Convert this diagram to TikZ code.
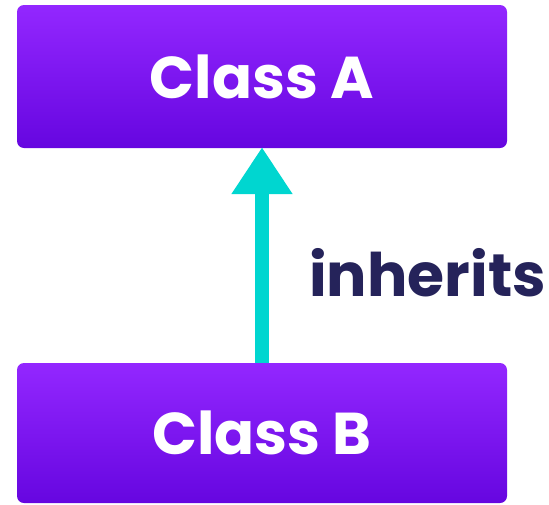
\documentclass[tikz,border=0pt]{standalone}
\usepackage{fontspec}
\setmainfont{Poppins}
\usetikzlibrary{arrows.meta}
\definecolor{boxtop}{HTML}{9327FF}
\definecolor{boxbot}{HTML}{6606E0}
\definecolor{arrowc}{HTML}{00D6D0}
\definecolor{labelc}{HTML}{25235A}
\tikzset{
  classbox/.style={rectangle, rounded corners=7pt, minimum width=490pt, minimum height=#1,
    top color=boxtop, bottom color=boxbot, draw=none, text=white,
    font=\fontsize{59}{66}\selectfont\bfseries, inner sep=0pt},
  inhline/.style={draw=arrowc, line width=14pt,
    -{Triangle[width=58pt,length=47pt]}, shorten >=-1pt},
  labeltxt/.style={text=labelc, font=\fontsize{60}{66}\selectfont\bfseries, inner sep=0pt}
}
\begin{document}
\begin{tikzpicture}[x=1pt,y=-1pt]
  \useasboundingbox (0,0) rectangle (549,504);
  \node[classbox=143pt] (A) at (262,76.5) {Class A};
  \node[classbox=140pt] (B) at (262,433) {Class B};
  \draw[inhline] (B.north) -- (A.south);
  \node[labeltxt, anchor=base west] (L) at (309,296) {inherits};
\end{tikzpicture}
\end{document}
